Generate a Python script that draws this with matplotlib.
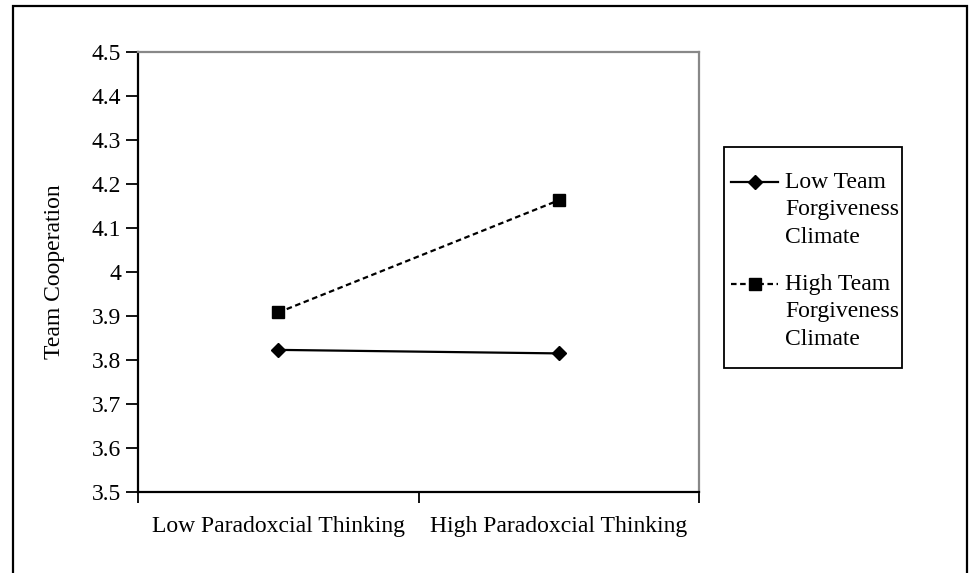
import matplotlib
matplotlib.use("Agg")
import matplotlib.pyplot as plt
from matplotlib.patches import Rectangle
from matplotlib.legend_handler import HandlerLine2D

plt.rcParams['font.family'] = ['Liberation Serif', 'DejaVu Serif']

categories = ['Low Paradoxcial Thinking', 'High Paradoxcial Thinking']
low_forgiveness = [3.823, 3.815]
high_forgiveness = [3.908, 4.163]
series_names = ['Low Team\nForgiveness\nClimate', 'High Team\nForgiveness\nClimate']
y_ticks = [3.5, 3.6, 3.7, 3.8, 3.9, 4.0, 4.1, 4.2, 4.3, 4.4, 4.5]
y_labels = ['3.5', '3.6', '3.7', '3.8', '3.9', '4', '4.1', '4.2', '4.3', '4.4', '4.5']

FS = 17
LINE_PT = 19.8  # one text line of the legend labels, in points


# put the legend handle on the first line of a multi-line label
class TopLineHandler(HandlerLine2D):
    def create_artists(self, legend, orig_handle, xdescent, ydescent,
                       width, height, fontsize, trans):
        return super().create_artists(legend, orig_handle, xdescent,
                                      ydescent - 2 * LINE_PT, width, height,
                                      fontsize, trans)


fig = plt.figure(figsize=(9.69, 5.73), dpi=100)
ax = fig.add_axes([138 / 969, 1 - 492 / 573, 561 / 969, 440 / 573])

xpos = [0.5, 1.5]
l1, = ax.plot(xpos, low_forgiveness, color='black', lw=1.6, marker='D', ms=7,
              label=series_names[0])
l2, = ax.plot(xpos, high_forgiveness, color='black', lw=1.6, ls=(0, (2.5, 1.6)),
              marker='s', ms=9, label=series_names[1])

ax.set_xlim(0, 2)
ax.set_ylim(3.5, 4.5)
ax.set_yticks(y_ticks)
ax.set_yticklabels(y_labels)
ax.set_xticks([0, 1, 2])
ax.set_xticklabels([])
ax.set_xticks(xpos, minor=True)
ax.set_xticklabels(categories, minor=True)
ax.tick_params(axis='x', which='major', length=8, width=1.3, direction='out')
ax.tick_params(axis='x', which='minor', length=0, pad=17, labelsize=FS)
ax.tick_params(axis='y', length=9, width=1.3, direction='out', labelsize=FS, pad=3)

for s in ['left', 'bottom']:
    ax.spines[s].set_linewidth(1.6)
for s in ['top', 'right']:
    ax.spines[s].set_color('#888888')
    ax.spines[s].set_linewidth(1.6)

ax.set_ylabel('Team Cooperation', fontsize=FS, labelpad=19)

leg = fig.legend(handles=[l1, l2], loc='upper left',
                 bbox_to_anchor=(724 / 969, 1 - 165 / 573),
                 fontsize=FS, frameon=False,
                 handlelength=2.0, handletextpad=0.3, borderpad=0.3,
                 labelspacing=1.1, borderaxespad=0,
                 handler_map={l1: TopLineHandler(), l2: TopLineHandler()})
for t in leg.get_texts():
    t.set_linespacing(1.4)

# legend box
fig.patches.append(Rectangle((724 / 969, 1 - 368 / 573), 178 / 969, 221 / 573,
                             transform=fig.transFigure, fill=False,
                             edgecolor='black', lw=1.3))

# outer frame
fig.patches.append(Rectangle((13 / 969, -0.05), 954 / 969, 1.05 - 6 / 573,
                             transform=fig.transFigure, fill=False,
                             edgecolor='black', lw=1.6))

fig.savefig('out.png', dpi=100)
